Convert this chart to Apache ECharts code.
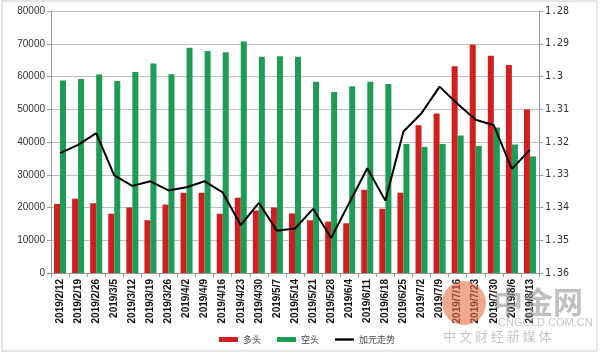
<!DOCTYPE html>
<html><head><meta charset="utf-8">
<script src="https://cdn.jsdelivr.net/npm/echarts@6/dist/echarts.min.js"></script>
<style>html,body{margin:0;padding:0;background:#fff}#c{width:600px;height:356px}</style>
</head><body><div id="c"></div>
<script>
const categories = ['2019/2/12','2019/2/19','2019/2/26','2019/3/5','2019/3/12','2019/3/19','2019/3/26','2019/4/2','2019/4/9','2019/4/16','2019/4/23','2019/4/30','2019/5/7','2019/5/14','2019/5/21','2019/5/28','2019/6/4','2019/6/11','2019/6/18','2019/6/25','2019/7/2','2019/7/9','2019/7/16','2019/7/23','2019/7/30','2019/8/6','2019/8/13'];
const longs = [21100,22700,21300,18100,20000,16100,20900,24500,24500,18100,23000,19100,20000,18200,16100,15700,15200,25400,19600,24500,45100,48700,63100,69700,66300,63500,49900];
const shorts = [58800,59200,60600,58600,61400,64000,60700,68800,67800,67400,70700,66000,66200,66000,58400,55300,57000,58400,57700,39400,38500,39400,42000,38800,44400,39200,35600];
const cad = [1.3234,1.3209,1.3173,1.3302,1.3334,1.3320,1.3348,1.3338,1.3320,1.3354,1.3454,1.3386,1.3471,1.3464,1.3404,1.3493,1.3386,1.3280,1.3379,1.3168,1.3112,1.3031,1.3084,1.3132,1.3149,1.3282,1.3224];
const leftTicks = {min:0, max:80000, interval:10000};
const rightTicks = {min:1.28, max:1.36, interval:0.01};
const names = ['多头','空头','加元走势'];

const chart = echarts.init(document.getElementById('c'));
const font = '"Liberation Sans", "Noto Sans CJK SC", sans-serif';
chart.setOption({
  animation:false,
  textStyle:{fontFamily:font},
  grid:{left:51,right:61,top:11,bottom:83},
  legend:{
    bottom:7,left:214,itemWidth:19,itemHeight:5,itemGap:16,
    textStyle:{fontSize:9,color:'#444',fontFamily:'"Noto Sans CJK SC", sans-serif'},
    data:[{name:names[0],icon:'rect'},{name:names[1],icon:'rect'},{name:names[2],icon:'path://M0,0L40,0L40,5L0,5Z'}]
  },
  xAxis:{
    type:'category',data:categories,
    axisLine:{lineStyle:{color:'#999'}},
    axisTick:{show:true,alignWithLabel:false,length:4,lineStyle:{color:'#999'}},
    axisLabel:{rotate:90,fontSize:10,color:'#111',interval:0,fontWeight:'bold',margin:6}
  },
  yAxis:[
    {type:'value',min:leftTicks.min,max:leftTicks.max,interval:leftTicks.interval,
     axisLine:{show:true,lineStyle:{color:'#999'}},
     axisTick:{show:true,length:4,lineStyle:{color:'#999'}},
     axisLabel:{fontSize:10,color:'#333',margin:6,formatter:v=>String(v)},
     splitLine:{lineStyle:{color:'#c0c0c0'}}},
    {type:'value',inverse:true,min:rightTicks.min,max:rightTicks.max,interval:rightTicks.interval,
     axisLine:{show:true,lineStyle:{color:'#999'}},
     axisTick:{show:true,length:4,lineStyle:{color:'#999'}},
     axisLabel:{fontSize:10,color:'#333',margin:6,fontFamily:'"DejaVu Sans Mono", monospace',
       formatter:v=>String(parseFloat(v.toFixed(2)))},
     splitLine:{show:false}}
  ],
  series:[
    {name:names[0],type:'bar',data:longs,barWidth:6,barGap:'0%',itemStyle:{color:'#d11f1f'}},
    {name:names[1],type:'bar',data:shorts,barWidth:6,itemStyle:{color:'#1c9c55'}},
    {name:names[2],type:'line',yAxisIndex:1,data:cad,symbol:'none',lineStyle:{color:'#000',width:2},itemStyle:{color:'#000'}}
  ],
  graphic:[
    {type:'rect',shape:{x:2,y:1,width:595,height:350},style:{fill:'none',stroke:'#ccc',lineWidth:1},silent:true,z:-1},
    {type:'circle',shape:{cx:464,cy:303,r:22},style:{fill:'rgba(230,110,70,0.6)'},silent:true,z:100},
    {type:'text',left:493,top:287,style:{text:'中金网',font:'bold 30px "Noto Sans CJK SC"',fill:'rgba(150,150,150,0.6)'},silent:true,z:100},
    {type:'text',left:498,top:317,style:{text:'CNGOLD.COM.CN',font:'11px "Liberation Sans"',fill:'rgba(160,160,160,0.6)'},silent:true,z:100},
    {type:'text',left:443,top:330,style:{text:'中 文 财 经 新 媒 体',font:'13px "Noto Sans CJK SC"',fill:'rgba(160,160,160,0.6)'},silent:true,z:100}
  ]
});
</script></body></html>
